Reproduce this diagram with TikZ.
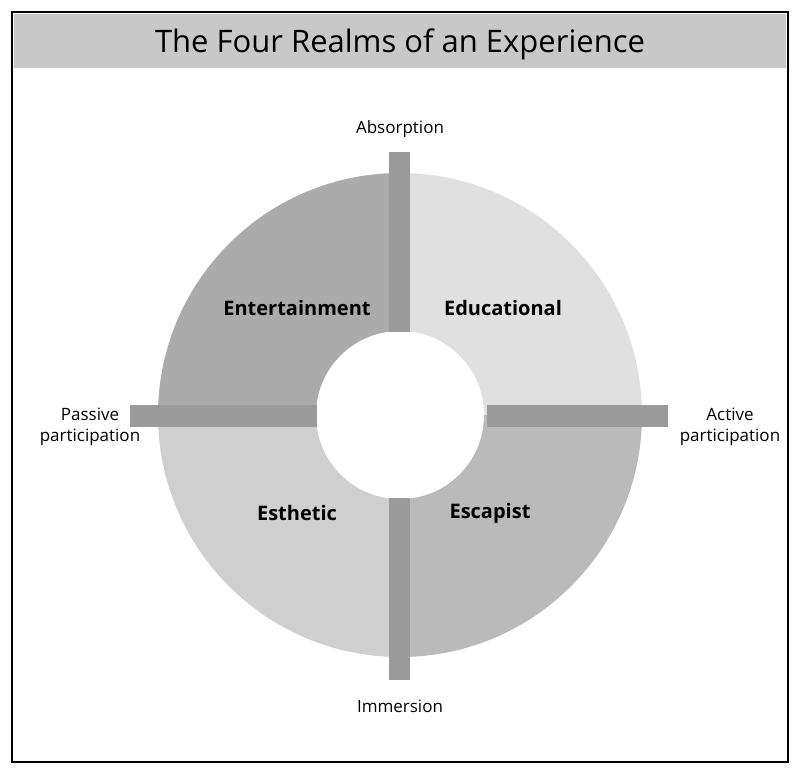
\documentclass[tikz,border=0pt]{standalone}
\usepackage{fontspec}
\setmainfont{Open Sans}
\usetikzlibrary{positioning}
\definecolor{bargray}{HTML}{9A9A9A}
\definecolor{titlegray}{HTML}{C8C8C8}
\begin{document}
\begin{tikzpicture}[x=1pt,y=-1pt,
  realm/.style={font=\fontsize{20}{24}\selectfont\bfseries},
  axis/.style={font=\fontsize{17}{21}\selectfont,align=center},
  bar/.style={fill=bargray,draw=none}]
  \useasboundingbox (0,0) rectangle (800,774);
  \draw[line width=1.5pt] (12,12) rectangle (788,762);
  \fill[titlegray] (14,14) rectangle (786,68);
  \node[font=\fontsize{31}{36}\selectfont] (title) at (400,44) {The Four Realms of an Experience};
  % quadrants
  \begin{scope}[shift={(400,415)},y=1pt]
    \fill[black!33] (0,0) -- (180:242) arc[start angle=180,end angle=90,radius=242] -- cycle;
    \fill[black!12] (0,0) -- (90:242) arc[start angle=90,end angle=0,radius=242] -- cycle;
    \fill[black!19] (0,0) -- (180:242) arc[start angle=180,end angle=270,radius=242] -- cycle;
    \fill[black!27] (0,0) -- (0:242) arc[start angle=0,end angle=-90,radius=242] -- cycle;
    \fill[white] (0,0) circle[radius=84];
  \end{scope}
  % bars
  \fill[bar] (389,152) rectangle (410,332);
  \fill[bar] (389,498) rectangle (410,680);
  \fill[bar] (130,405) rectangle (317,427);
  \fill[bar] (487,405) rectangle (668,427);
  % labels
  \node[realm] (ent) at (297,308) {Entertainment};
  \node[realm] (edu) at (503,308) {Educational};
  \node[realm] (est) at (297,513) {Esthetic};
  \node[realm] (esc) at (490,513) {Escapist};
  \node[axis] (abs) at (400,129) {Absorption};
  \node[axis] (imm) at (400,706) {Immersion};
  \node[axis] (pas) at (90,427) {Passive\\participation};
  \node[axis] (act) at (730,427) {Active\\participation};
\end{tikzpicture}
\end{document}
